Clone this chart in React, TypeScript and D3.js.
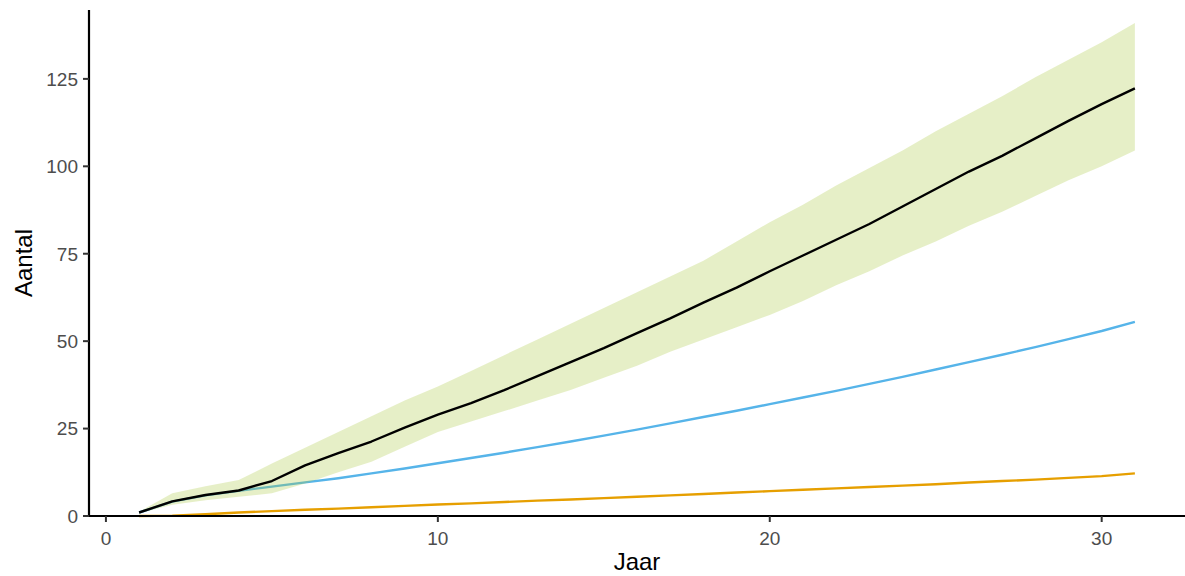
import React from "react";
import * as d3 from "d3";

const years = d3.range(1, 32);
const totaal = [1, 4.2, 6, 7.3, 10, 14.5, 18, 21.3, 25.3, 29, 32.3, 36, 40, 44, 48, 52.3, 56.5, 61, 65.3, 70, 74.5, 79, 83.5, 88.5, 93.5, 98.5, 103, 108, 113, 117.8, 122.3];
const bovengrens = [1.2, 6.5, 8.5, 10.3, 15, 19.5, 24, 28.5, 33, 37, 41.5, 46, 50.5, 55, 59.5, 64, 68.5, 73, 78.5, 84, 89, 94.5, 99.5, 104.5, 110, 115, 120, 125.5, 130.5, 135.5, 141];
const ondergrens = [0.8, 3.2, 4.5, 5.5, 6.5, 9.3, 12.5, 15.5, 19.8, 24, 27, 30, 33, 36, 39.5, 43, 47, 50.5, 54, 57.5, 61.5, 66, 70, 74.5, 78.5, 83, 87, 91.5, 96, 100, 104.5];
const blauw = [1, 4.1, 5.9, 7.2, 8.4, 9.6, 10.8, 12.2, 13.6, 15.1, 16.6, 18.1, 19.7, 21.3, 23, 24.7, 26.5, 28.3, 30.1, 32, 33.9, 35.8, 37.8, 39.8, 41.9, 44, 46.1, 48.3, 50.6, 52.9, 55.5];
const oranje = [0, 0.1, 0.5, 1, 1.4, 1.8, 2.1, 2.5, 2.9, 3.3, 3.6, 4, 4.4, 4.7, 5.1, 5.5, 5.9, 6.3, 6.7, 7.1, 7.5, 7.9, 8.3, 8.7, 9.1, 9.6, 10, 10.4, 10.9, 11.4, 12.2];
const xTicks = [0, 10, 20, 30];
const yTicks = [0, 25, 50, 75, 100, 125];

export default function App() {
  const W = 1185, H = 576;
  const left = 89, right = 1185, top = 10, bottom = 516;
  const x = d3.scaleLinear().domain([-0.51, 32.51]).range([left, right]);
  const y = d3.scaleLinear().domain([0, 144.7]).range([bottom, top]);
  const area = d3.area<number>()
    .x((_, i) => x(years[i]))
    .y0((_, i) => y(ondergrens[i]))
    .y1((_, i) => y(bovengrens[i]));
  const line = (vals: number[]) =>
    d3.line<number>().x((_, i) => x(years[i])).y((v) => y(v))(vals) || "";
  const font = "'Liberation Sans', Arial, Helvetica, sans-serif";
  return (
    <svg width={W} height={H} style={{ position: "absolute", left: 0, top: 0 }} fontFamily={font}>
      <rect width={W} height={H} fill="#fff" />
      <path d={line(oranje)} fill="none" stroke="#E69F00" strokeWidth={2.4} strokeLinejoin="round" />
      <path d={line(blauw)} fill="none" stroke="#56B4E9" strokeWidth={2.4} strokeLinejoin="round" />
      <path d={area(totaal) || ""} fill="#ACCA44" fillOpacity={0.3} />
      <path d={line(totaal)} fill="none" stroke="#000" strokeWidth={2.4} strokeLinejoin="round" />
      <line x1={left} x2={left} y1={top} y2={bottom + 1} stroke="#000" strokeWidth={2.2} />
      <line x1={left - 1} x2={right} y1={bottom} y2={bottom} stroke="#000" strokeWidth={2.2} />
      {yTicks.map((t) => (
        <g key={t}>
          <line x1={left - 6} x2={left} y1={y(t)} y2={y(t)} stroke="#333" strokeWidth={2} />
          <text x={left - 11} y={y(t)} dy="0.36em" textAnchor="end" fontSize={19} fill="#4D4D4D">{t}</text>
        </g>
      ))}
      {xTicks.map((t) => (
        <g key={t}>
          <line x1={x(t)} x2={x(t)} y1={bottom} y2={bottom + 6} stroke="#333" strokeWidth={2} />
          <text x={x(t)} y={bottom + 15} dy="0.72em" textAnchor="middle" fontSize={19} fill="#4D4D4D">{t}</text>
        </g>
      ))}
      <text x={(left + right) / 2} y={570} textAnchor="middle" fontSize={24} fill="#000">Jaar</text>
      <text transform={`translate(32,${(top + bottom) / 2}) rotate(-90)`} textAnchor="middle" fontSize={24} fill="#000">Aantal</text>
    </svg>
  );
}
